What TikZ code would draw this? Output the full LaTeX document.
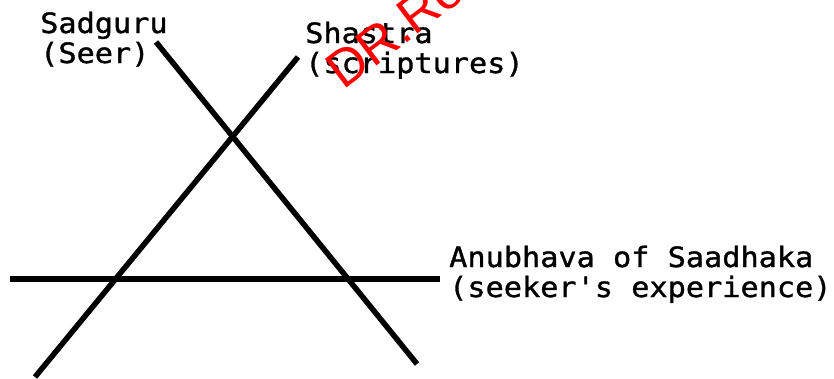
\documentclass[tikz,border=0pt]{standalone}
\usepackage{fontspec}
\newfontfamily\pixfont[FakeStretch=1.08,FakeBold=1.2]{DejaVu Sans Mono}
\newfontfamily\markfont{Liberation Sans}
\begin{document}
\begin{tikzpicture}[x=1pt,y=-1pt,
		stroke/.style={line width=5.5pt,black},
		label/.style={inner sep=0pt,anchor=base west,align=left,font=\pixfont\fontsize{28}{30}\selectfont}]
		\useasboundingbox (0,0) rectangle (834,378);
		\clip (0,0) rectangle (834,378);
		\coordinate (guru top) at (156,42);
		\coordinate (guru end) at (417,364);
		\coordinate (shastra top) at (298,57);
		\coordinate (shastra end) at (35,377);
		\coordinate (anubhava start) at (10,279);
		\coordinate (anubhava end) at (440,279);
		\draw[stroke] (guru top) -- (guru end);
		\draw[stroke] (shastra top) -- (shastra end);
		\draw[stroke,line width=6.5pt] (anubhava start) -- (anubhava end);
		\node[label] (guru) at (40,63) {Sadguru\\(Seer)};
		\node[label] (shastra) at (305,73) {Shastra\\(scriptures)};
		\node[label] (anubhava) at (449,297) {Anubhava of Saadhaka\\(seeker's experience)};
		% watermark
		\node[inner sep=0pt,anchor=base west,rotate=37,red,font=\markfont\fontsize{52}{52}\selectfont] (mark) at (343,91) {DR.Ro};
\end{tikzpicture}
\end{document}
